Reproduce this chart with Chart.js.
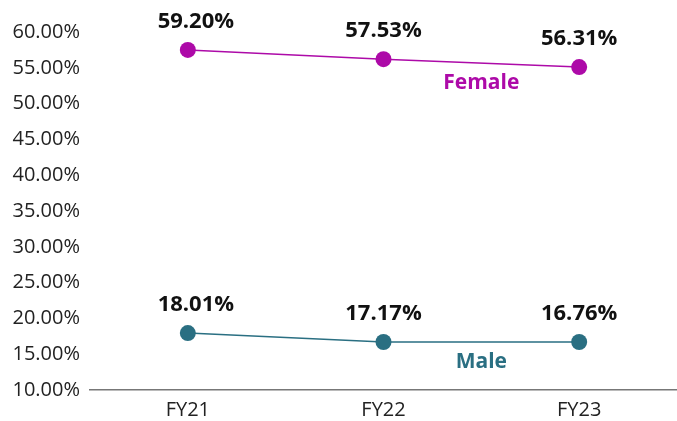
<!DOCTYPE html>
<html>
<head>
<meta charset="utf-8">
<script src="https://cdn.jsdelivr.net/npm/chart.js@4"></script>
<style>
  html, body { margin: 0; padding: 0; background: #fff; }
  #wrap { width: 677px; height: 421px; }
</style>
</head>
<body>
<div id="wrap"><canvas id="genderChart"></canvas></div>
<script>
const years = ['FY21', 'FY22', 'FY23'];
// plotted positions as they sit in the picture
const femaleValues = [57.5, 56.2, 55.1];
const maleValues = [17.95, 16.7, 16.7];
// printed labels
const femaleLabels = ['59.20%', '57.53%', '56.31%'];
const maleLabels = ['18.01%', '17.17%', '16.76%'];

const FEMALE = '#ad0aa8';
const MALE = '#2a6f82';

const labelPlugin = {
    id: 'pointLabels',
    afterDatasetsDraw(chart) {
        let ctx = chart.ctx;
        ctx.save();
        ctx.textAlign = 'center';
        ctx.textBaseline = 'middle';
        chart.data.datasets.forEach(function(ds, i) {
            let pts = chart.getDatasetMeta(i).data;
            ctx.font = 'bold 22px "Open Sans"';
            ctx.fillStyle = '#111';
            pts.forEach(function(p, j) {
                ctx.fillText(ds.valueLabels[j], p.x + (j === 0 ? 8 : 0), p.y - 28);
            });
            // series name under the last segment
            let a = pts[pts.length - 2], b = pts[pts.length - 1];
            ctx.font = 'bold 21px "Open Sans"';
            ctx.fillStyle = ds.borderColor;
            ctx.fillText(ds.label, (a.x + b.x) / 2, (a.y + b.y) / 2 + 20);
        });
        ctx.restore();
    }
};

document.addEventListener('DOMContentLoaded', function() {
    let ctx = document.getElementById('genderChart').getContext('2d');
    new Chart(ctx, {
        type: 'line',
        data: {
            labels: years,
            datasets: [{
                label: 'Female',
                data: femaleValues,
                valueLabels: femaleLabels,
                borderColor: FEMALE,
                backgroundColor: FEMALE,
                borderWidth: 1.5,
                pointRadius: 8,
                pointHoverRadius: 8,
                pointBorderWidth: 0
            }, {
                label: 'Male',
                data: maleValues,
                valueLabels: maleLabels,
                borderColor: MALE,
                backgroundColor: MALE,
                borderWidth: 1.5,
                pointRadius: 8,
                pointHoverRadius: 8,
                pointBorderWidth: 0
            }]
        },
        options: {
            responsive: true,
            maintainAspectRatio: false,
            animation: false,
            layout: { autoPadding: false, padding: { top: 32, right: -9, left: 0, bottom: 0 } },
            plugins: {
                legend: { display: false },
                tooltip: { enabled: false }
            },
            scales: {
                x: {
                    offset: true,
                    afterFit: function(scale) { scale.height = 31; },
                    grid: { display: false, drawTicks: false },
                    border: { display: true, color: '#777', width: 1.5 },
                    ticks: {
                        color: '#222',
                        padding: 8,
                        font: { family: 'Open Sans', size: 20 }
                    }
                },
                y: {
                    min: 10,
                    max: 60,
                    afterFit: function(scale) { scale.width = 90; },
                    grid: { display: false, drawTicks: false },
                    border: { display: false },
                    ticks: {
                        stepSize: 5,
                        color: '#222',
                        padding: 10,
                        font: { family: 'Open Sans', size: 20 },
                        callback: function(v) { return v.toFixed(2) + '%'; }
                    }
                }
            }
        },
        plugins: [labelPlugin]
    });
});
</script>
</body>
</html>
